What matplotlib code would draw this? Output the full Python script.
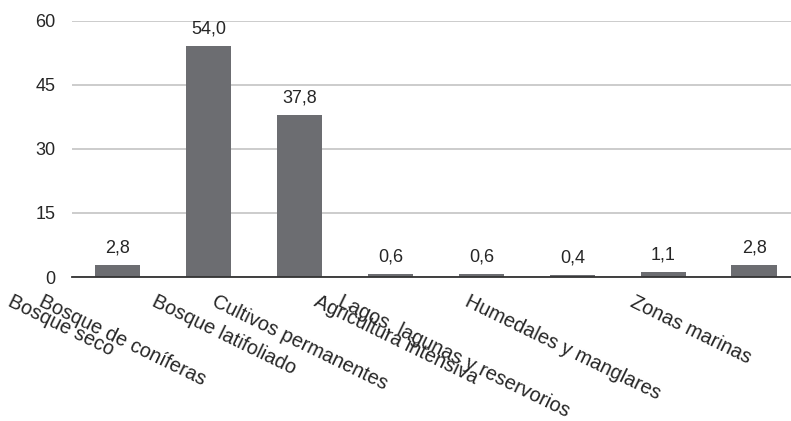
import matplotlib
matplotlib.use("Agg")
import matplotlib.pyplot as plt

categorias = ["Bosque seco", "Bosque de coníferas", "Bosque latifoliado",
              "Cultivos permanentes", "Agricultura intensiva",
              "Lagos, lagunas y reservorios", "Humedales y manglares",
              "Zonas marinas"]
valores = [2.8, 54.0, 37.8, 0.6, 0.6, 0.4, 1.1, 2.8]
yticks = [0, 15, 30, 45, 60]

plt.rcParams['font.family'] = ['Liberation Sans', 'DejaVu Sans']

fig = plt.figure(figsize=(7.91, 4.21), dpi=100)
ax = fig.add_axes([0.091, 0.342, 0.920, 0.609])

x = range(len(valores))
bars = ax.bar(x, valores, width=0.5, color="#6c6d71", zorder=3)

# value labels above each bar, decimal comma
for b, v in zip(bars, valores):
    ax.annotate(f"{v:.1f}".replace(".", ","),
                (b.get_x() + b.get_width() / 2, b.get_height()),
                xytext=(0, 9), textcoords="offset points",
                ha="center", va="baseline", fontsize=13, color="#262626")

ax.set_xlim(-0.5, len(valores) - 0.5)
ax.set_ylim(0, 60)
ax.set_yticks(yticks)
ax.set_yticklabels([str(t) for t in yticks], fontsize=13, color="#262626")
ax.set_xticks(list(x))
ax.set_xticklabels(categorias, rotation=-26, ha="right", va="top",
                   rotation_mode="default", fontsize=14.3, color="#262626")

ax.tick_params(axis="both", length=0)
ax.tick_params(axis="y", pad=12)
ax.tick_params(axis="x", pad=11)

ax.yaxis.grid(True, color="#c8c8c8", linewidth=1.3, zorder=0)
for s in ["top", "right", "left"]:
    ax.spines[s].set_visible(False)
ax.spines["bottom"].set_color("#333333")
ax.spines["bottom"].set_linewidth(1.3)
ax.spines["bottom"].set_zorder(4)

fig.savefig("out.png", dpi=100)
